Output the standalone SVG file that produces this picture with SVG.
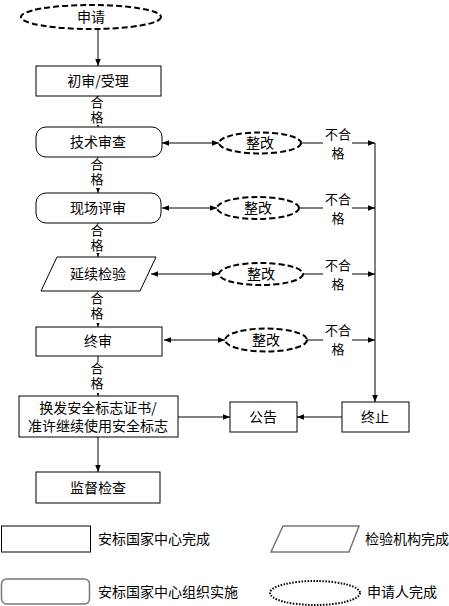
<svg xmlns="http://www.w3.org/2000/svg" width="449" height="606" viewBox="0 0 449 606">
<style>
text{font-family:"Noto Sans CJK SC","Noto Sans",sans-serif;font-size:14px;fill:#000}
.c{text-anchor:middle}
.v{writing-mode:vertical-rl;text-orientation:upright;font-size:13px;letter-spacing:2px}
.s{font-size:13px}
.box{fill:#fff;stroke:#000;stroke-width:1}
.dash{fill:#fff;stroke:#000;stroke-width:2;stroke-dasharray:6 3}
.ln{fill:none;stroke:#000;stroke-width:1}
.lg{fill:#fff;stroke:#777;stroke-width:1.5}
.dot{fill:#fff;stroke:#000;stroke-width:2;stroke-dasharray:1.5 1.5}
</style>
<defs>
<marker id="a" viewBox="0 0 10 10" refX="10" refY="5" markerWidth="7" markerHeight="7" orient="auto-start-reverse" markerUnits="userSpaceOnUse">
<path d="M0,1 L10,5 L0,9 z" fill="#000"/>
</marker>
</defs>
<rect width="449" height="606" fill="#fff"/>
<g id="connectors">
<line class="ln" x1="98" y1="29" x2="98" y2="66" marker-end="url(#a)"/>
<line class="ln" x1="98" y1="96" x2="98" y2="127" marker-end="url(#a)"/>
<line class="ln" x1="98" y1="157" x2="98" y2="193" marker-end="url(#a)"/>
<line class="ln" x1="98" y1="223" x2="98" y2="257" marker-end="url(#a)"/>
<line class="ln" x1="98" y1="291" x2="98" y2="327" marker-end="url(#a)"/>
<line class="ln" x1="98" y1="356" x2="98" y2="396" marker-end="url(#a)"/>
<line class="ln" x1="98" y1="437" x2="98" y2="472" marker-end="url(#a)"/>
<line class="ln" x1="178" y1="417" x2="230" y2="417" marker-end="url(#a)"/>
<line class="ln" x1="342" y1="417" x2="297" y2="417" marker-end="url(#a)"/>
<line class="ln" x1="375" y1="143" x2="375" y2="402" marker-end="url(#a)"/>
<line class="ln" x1="162" y1="143" x2="219" y2="143" marker-start="url(#a)" marker-end="url(#a)"/>
<line class="ln" x1="162" y1="208" x2="217" y2="208" marker-start="url(#a)" marker-end="url(#a)"/>
<line class="ln" x1="151" y1="274" x2="219" y2="274" marker-start="url(#a)" marker-end="url(#a)"/>
<line class="ln" x1="164" y1="340" x2="225" y2="340" marker-start="url(#a)" marker-end="url(#a)"/>
<line class="ln" x1="302" y1="143" x2="323" y2="143"/>
<line class="ln" x1="352" y1="143" x2="375" y2="143" marker-end="url(#a)"/>
<line class="ln" x1="300" y1="208" x2="323" y2="208"/>
<line class="ln" x1="352" y1="208" x2="375" y2="208" marker-end="url(#a)"/>
<line class="ln" x1="303" y1="274" x2="323" y2="274"/>
<line class="ln" x1="352" y1="274" x2="375" y2="274" marker-end="url(#a)"/>
<line class="ln" x1="307" y1="340" x2="323" y2="340"/>
<line class="ln" x1="352" y1="340" x2="375" y2="340" marker-end="url(#a)"/>
<g fill="#fff">
<rect x="90" y="97" width="16" height="28"/>
<rect x="90" y="158" width="16" height="30"/>
<rect x="90" y="224" width="16" height="29"/>
<rect x="90" y="292" width="16" height="31"/>
<rect x="90" y="362" width="16" height="31"/>
</g>
<text class="v" x="97" y="96">合格</text>
<text class="v" x="97" y="158">合格</text>
<text class="v" x="97" y="224">合格</text>
<text class="v" x="97" y="292">合格</text>
<text class="v" x="97" y="362">合格</text>
<text class="c s" x="338" y="139">不合<tspan x="338" y="158">格</tspan></text>
<text class="c s" x="338" y="204">不合<tspan x="338" y="223">格</tspan></text>
<text class="c s" x="338" y="270">不合<tspan x="338" y="289">格</tspan></text>
<text class="c s" x="338" y="335">不合<tspan x="338" y="354">格</tspan></text>
</g>
<g id="n-apply"><ellipse class="dash" cx="91" cy="17" rx="70" ry="12"/><text class="c" x="91" y="22">申请</text></g>
<g id="n-init"><rect class="box" x="36" y="66" width="125" height="30"/><text class="c" x="98" y="86">初审/受理</text></g>
<g id="n-tech"><rect class="box" x="36" y="127" width="126" height="30" rx="10"/><text class="c" x="98" y="147">技术审查</text></g>
<g id="n-site"><rect class="box" x="36" y="193" width="125" height="30" rx="10"/><text class="c" x="98" y="213">现场评审</text></g>
<g id="n-check"><polygon class="box" points="57,257 156,257 140,291 41,291"/><text class="c" x="98" y="279">延续检验</text></g>
<g id="n-final"><rect class="box" x="36" y="327" width="126" height="29"/><text class="c" x="98" y="346">终审</text></g>
<g id="n-issue"><rect class="box" x="19" y="396" width="159" height="41"/><text class="c" x="98" y="413">换发安全标志证书/<tspan x="98" y="431">准许继续使用安全标志</tspan></text></g>
<g id="n-super"><rect class="box" x="36" y="472" width="124" height="31"/><text class="c" x="98" y="493">监督检查</text></g>
<g id="n-notice"><rect class="box" x="230" y="402" width="67" height="30"/><text class="c" x="263" y="422">公告</text></g>
<g id="n-stop"><rect class="box" x="342" y="402" width="67" height="30"/><text class="c" x="375" y="422">终止</text></g>
<g id="n-fix1"><ellipse class="dash" cx="260" cy="143" rx="41" ry="10.5"/><text class="c" x="260" y="148">整改</text></g>
<g id="n-fix2"><ellipse class="dash" cx="258" cy="208" rx="41" ry="11"/><text class="c" x="258" y="213">整改</text></g>
<g id="n-fix3"><ellipse class="dash" cx="261" cy="274" rx="42" ry="11"/><text class="c" x="261" y="279">整改</text></g>
<g id="n-fix4"><ellipse class="dash" cx="266" cy="340" rx="41" ry="11.5"/><text class="c" x="266" y="345">整改</text></g>
<g id="legend">
<rect x="1.5" y="526" width="89" height="26" fill="#fff" stroke="#000" stroke-width="1"/>
<text x="98" y="544">安标国家中心完成</text>
<polygon class="lg" points="283,526 359,526 349,552 271,552"/>
<text x="365" y="544">检验机构完成</text>
<rect class="lg" x="1.5" y="579" width="88" height="25" rx="5"/>
<text x="98" y="597">安标国家中心组织实施</text>
<ellipse class="dot" cx="315" cy="593" rx="45" ry="12"/>
<text x="367" y="597">申请人完成</text>
</g>
</svg>
